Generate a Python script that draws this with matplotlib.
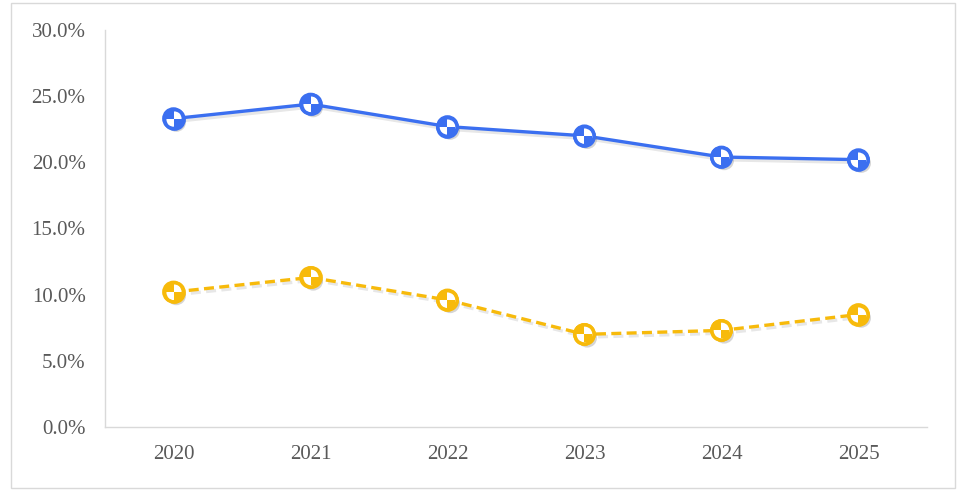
import matplotlib
matplotlib.use("Agg")
import matplotlib.pyplot as plt
from matplotlib.path import Path
from matplotlib.patches import Rectangle
import matplotlib.patheffects as pe
from matplotlib.ticker import FuncFormatter

years = ["2020", "2021", "2022", "2023", "2024", "2025"]
series_a = [23.3, 24.4, 22.7, 22.0, 20.4, 20.2]
series_b = [10.2, 11.3, 9.6, 7.0, 7.3, 8.5]
y_ticks = [0, 5, 10, 15, 20, 25, 30]

blue = "#3B6FF0"
gold = "#F7BA0B"
txt = "#595959"

fig = plt.figure(figsize=(9.67, 4.92), dpi=100)
fig.patches.append(Rectangle((0.011, 0.008), 0.977, 0.985, transform=fig.transFigure,
                             fill=False, edgecolor="#D9D9D9", linewidth=1.0))
ax = fig.add_axes([0.1086, 0.1321, 0.85, 0.807])

# checker marker: two coloured square cells (top-left, bottom-right)
sq = [Path.MOVETO, Path.LINETO, Path.LINETO, Path.LINETO, Path.CLOSEPOLY]
checker = Path([(-1, 0), (0, 0), (0, 1), (-1, 1), (-1, 0),
                (0, -1), (1, -1), (1, 0), (0, 0), (0, -1)], sq * 2)

x = list(range(len(years)))
line_shadow = [pe.SimpleLineShadow(offset=(1.5, -2), shadow_color="#888888", alpha=0.2), pe.Normal()]
ms, mew = 14.0, 2.4

for vals, col, ls in [(series_a, blue, "-"), (series_b, gold, (0, (3, 1.6)))]:
    ax.plot(x, vals, color=col, lw=2.4, linestyle=ls, zorder=2, path_effects=line_shadow)
    ax.plot(x, vals, linestyle="none", marker="o", markersize=ms, markerfacecolor="white",
            markeredgecolor=col, markeredgewidth=mew, zorder=3,
            path_effects=[pe.SimplePatchShadow(offset=(2, -2.5), shadow_rgbFace="#777777", alpha=0.3), pe.Normal()])
    ax.plot(x, vals, linestyle="none", marker=checker, markersize=11.5, markerfacecolor=col,
            markeredgewidth=0, zorder=4)
    ax.plot(x, vals, linestyle="none", marker="o", markersize=ms, markerfacecolor="none",
            markeredgecolor=col, markeredgewidth=mew, zorder=5)

ax.set_xlim(-0.5, len(years) - 0.5)
ax.set_ylim(0, 30)
ax.set_yticks(y_ticks)
ax.yaxis.set_major_formatter(FuncFormatter(lambda v, p: f"{v:.1f}%"))
ax.set_xticks(x)
ax.set_xticklabels(years)

for side in ["top", "right"]:
    ax.spines[side].set_visible(False)
for side in ["left", "bottom"]:
    ax.spines[side].set_color("#D9D9D9")
    ax.spines[side].set_linewidth(1.0)
ax.tick_params(length=0, labelsize=15, colors=txt)
ax.tick_params(axis="y", pad=14)
ax.tick_params(axis="x", pad=13)
for lab in ax.get_xticklabels() + ax.get_yticklabels():
    lab.set_fontfamily("Liberation Serif")

fig.savefig("out.png", dpi=100)
